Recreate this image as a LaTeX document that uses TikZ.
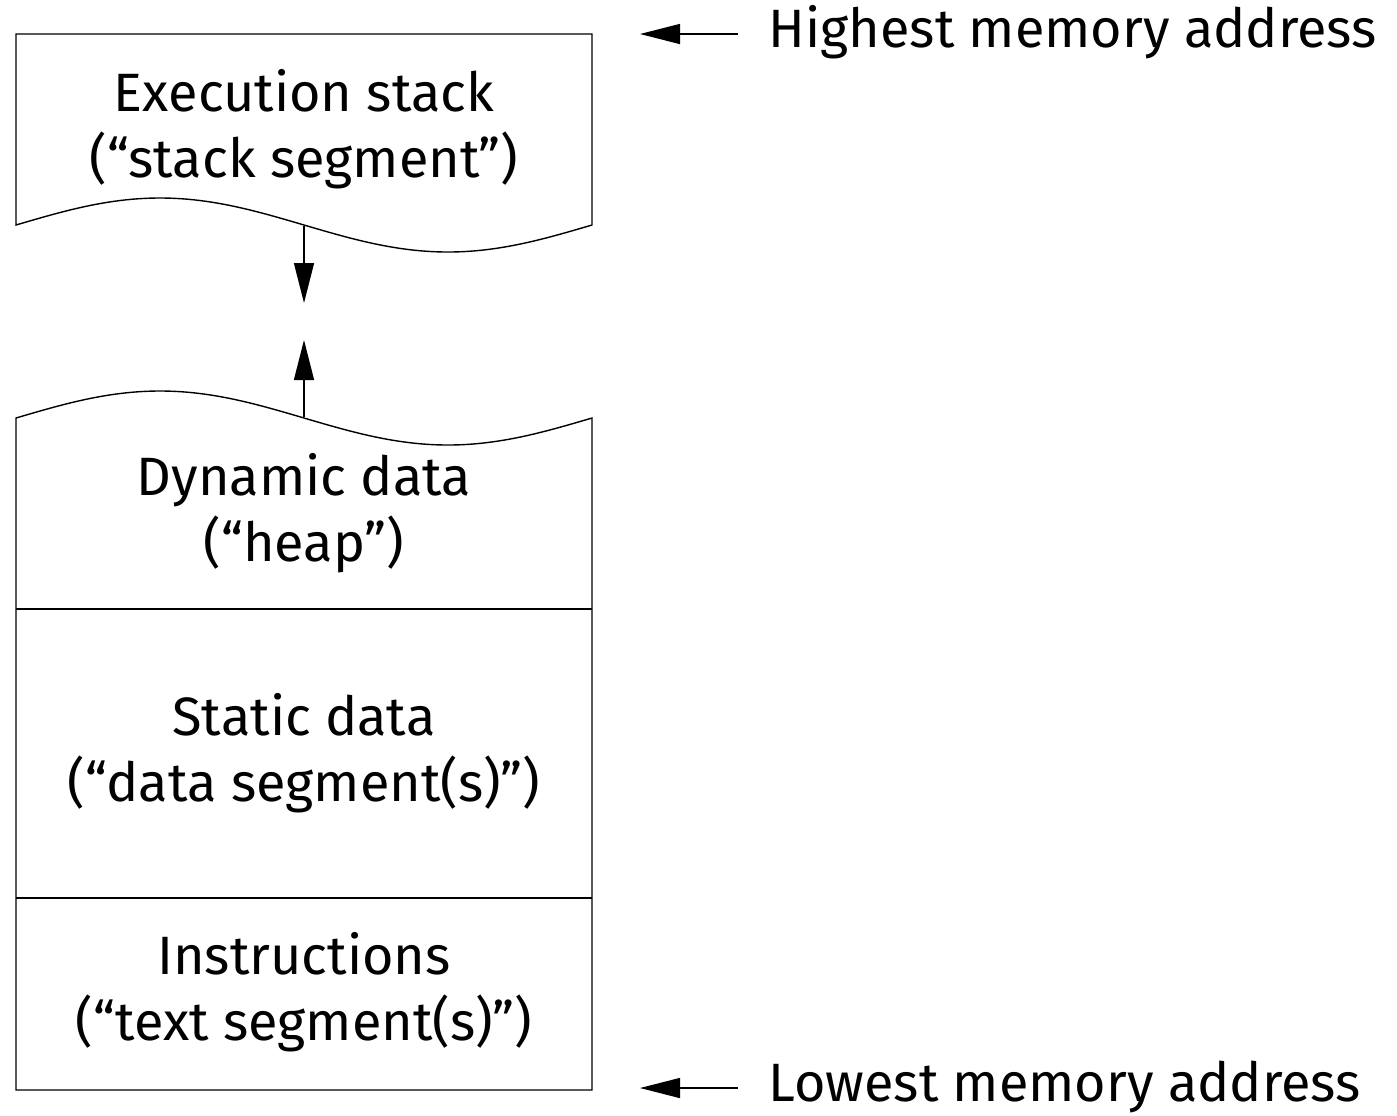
\documentclass[tikz,border=0pt]{standalone}
\usepackage{fontspec}
\setmainfont{Fira Sans}
\usetikzlibrary{arrows.meta}
\begin{document}
\begin{tikzpicture}[x=0.5pt,y=-0.5pt, line width=0.7pt,
  lbl/.style={font=\fontsize{27}{33}\selectfont, inner sep=0pt, align=center},
  tip/.style={-{Triangle[length=20pt,width=10pt]}}]
\useasboundingbox (0,0) rectangle (1397,1115);
% stack box
\draw (16,225) -- (16,34) -- (592,34) -- (592,225) sin (448,252) cos (304,225) sin (160,198) cos cycle;
% heap/static/text block
\draw (16,1090) -- (16,418) sin (160,391) cos (304,418) sin (448,445) cos (592,418) -- (592,1090) -- cycle;
\draw (16,609) -- (592,609);
\draw (16,898) -- (592,898);
% labels
\node[lbl] (stack) at (304,129) {Execution stack\\(“stack segment”)};
\node[lbl] (heap) at (304,513) {Dynamic data\\(“heap”)};
\node[lbl] (static) at (304,753) {Static data\\(“data segment(s)”)};
\node[lbl] (text) at (304,992) {Instructions\\(“text segment(s)”)};
% growth arrows
\coordinate (sb) at (304,226);
\coordinate (st) at (304,303);
\coordinate (hb) at (304,417);
\coordinate (ht) at (304,340);
\draw[tip] (sb) -- (st);
\draw[tip] (hb) -- (ht);
% address labels
\node[lbl, anchor=west] (hi) at (768,32) {Highest memory address};
\node[lbl, anchor=west] (lo) at (768,1087) {Lowest memory address};
\coordinate (hiA) at (738,34);
\coordinate (hiT) at (640,34);
\coordinate (loA) at (738,1088);
\coordinate (loT) at (640,1088);
\draw[tip] (hiA) -- (hiT);
\draw[tip] (loA) -- (loT);
\end{tikzpicture}
\end{document}
